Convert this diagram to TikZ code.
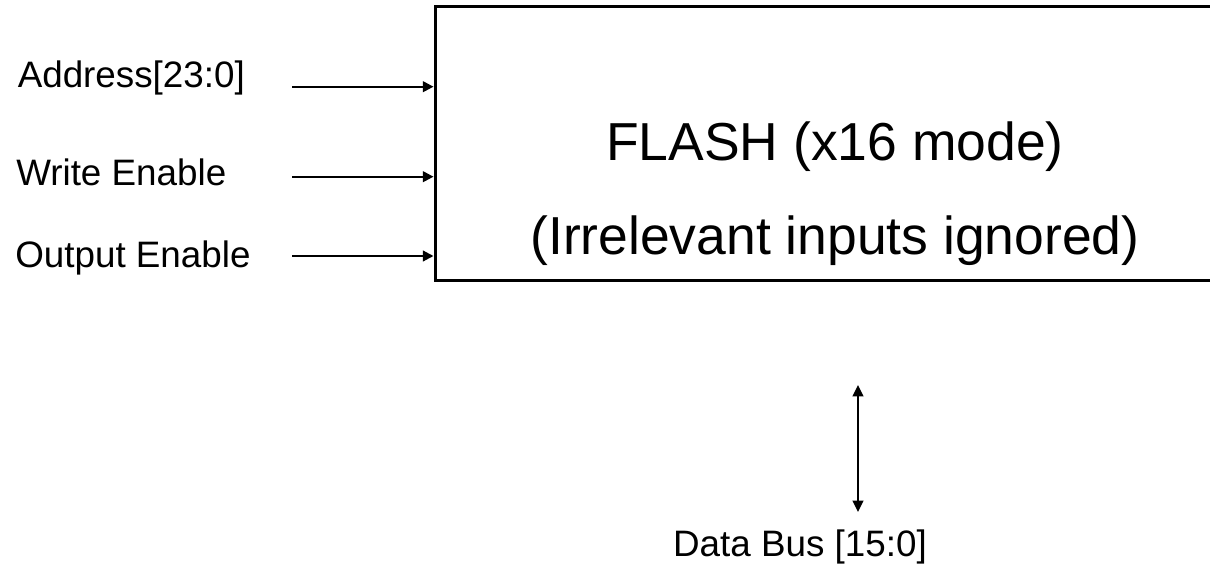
\documentclass[tikz,border=0pt]{standalone}
\usepackage{fontspec}
\setmainfont{Liberation Sans}
\usetikzlibrary{arrows.meta}
\begin{document}
\begin{tikzpicture}[x=0.75pt,y=-0.75pt,
  sig/.style={font=\fontsize{27.6pt}{33pt}\selectfont, inner sep=0pt, anchor=base west},
  big/.style={font=\fontsize{40.1pt}{48pt}\selectfont, inner sep=0pt, anchor=base},
  conn/.style={line width=1.6pt, -{Triangle[length=8pt,width=8pt]}},
  biconn/.style={line width=1.6pt, {Triangle[length=8.5pt,width=8pt]}-{Triangle[length=8.5pt,width=8pt]}},
  flashbox/.style={draw, line width=2.25pt, minimum width=600pt, minimum height=204.75pt, inner sep=0pt}]
\useasboundingbox (0,0) rectangle (1210,567);
\node[flashbox] (flash) at (835,143.5) {};
\node[big] (t1) at (835,160) {FLASH (x16 mode)};
\node[big] (t2) at (835,254) {(Irrelevant inputs ignored)};

\node[sig] (addr) at (17.5,88) {Address[23:0]};
\node[sig] (we) at (16,185) {Write Enable};
\node[sig] (oe) at (15,267) {Output Enable};

\coordinate (a0) at (292,86.7);
\coordinate (w0) at (292,176.7);
\coordinate (o0) at (292,256);
\draw[conn] (a0) -- (a0 -| flash.west);
\draw[conn] (w0) -- (w0 -| flash.west);
\draw[conn] (o0) -- (o0 -| flash.west);

\coordinate (dtop) at (858,385);
\coordinate (dbot) at (858,512);
\draw[biconn] (dtop) -- (dbot);
\node[sig, anchor=base] (db) at (800,556.7) {Data Bus [15:0]};
\end{tikzpicture}
\end{document}
